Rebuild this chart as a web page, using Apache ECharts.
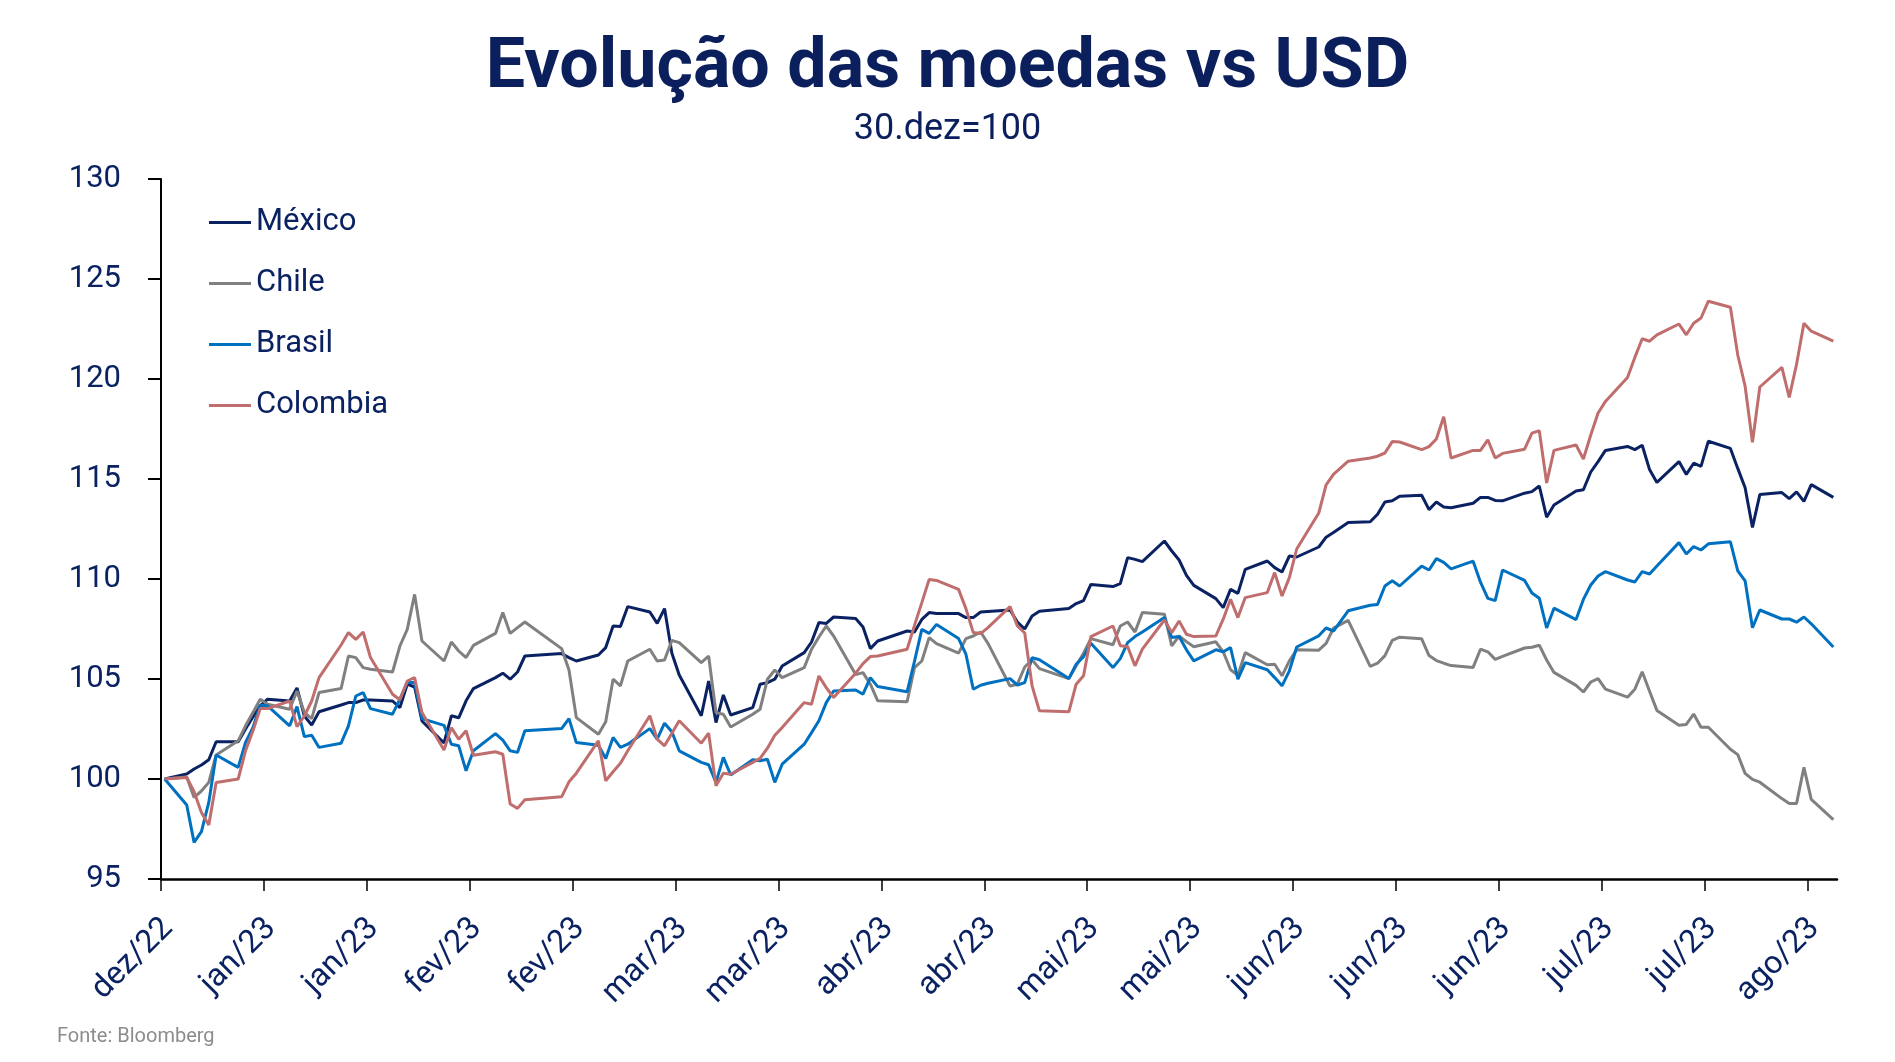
<!DOCTYPE html>
<html><head><meta charset="utf-8">
<script src="https://cdn.jsdelivr.net/npm/echarts@6/dist/echarts.min.js"></script>
<style>html,body{margin:0;padding:0;background:#fff}#chart{width:1895px;height:1062px}</style>
</head><body><div id="chart"></div>
<script>
// calendar days since 30/dez/2022 (business days with data)
const dayOffsets = [0,
3,4,5,6,7, 10,11,12,13,14, 17,18,19,20,21, 24,25,26,27,28, 31,32,33,34,35,
38,39,40,41,42, 45,46,47,48,49, 54,55,56, 59,60,61,62,63, 66,67,68,69,70,
73,74,75,76,77, 80,81,82,83,84, 87,88,89,90,91, 94,95,96,97, 101,102,103,104,105,
108,109,110,111,112, 115,116,117,118,119, 123,124,125,126, 129,130,131,132,133,
136,137,138,139,140, 143,144,145,146,147, 150,151,152,153,154, 157,158,159,161,
164,165,166,167,168, 171,172,173,174,175, 178,179,180,181,182, 185,186,187,188,189,
192,193,194,195,196, 199,200,201,202,203, 206,207,208,209,210, 213,214,215,216,217,
220,221,222,223,224, 227];

const mexico = [100.0,
100.25,100.5,100.7,100.96,101.86, 101.86,102.5,103.1,103.66,103.99, 103.9,104.55,103.15,102.7,103.36,
103.7,103.82,103.82,103.95,103.95, 103.9,103.57,104.74,104.6,102.9, 101.8,103.16,103.06,103.91,104.52,
105.07,105.29,104.99,105.35,106.15, 106.27,106.07,105.9, 106.2,106.57,107.65,107.62,108.62,
108.35,107.78,108.52,106.29,105.2, 103.16,104.9,102.82,104.2,103.2, 103.57,104.74,104.82,104.99,105.65,
106.32,106.85,107.82,107.78,108.1, 108.02,107.6,106.52,106.9, 107.4,107.35,107.98,108.32,108.28,
108.27,108.07,108.07,108.35,108.38, 108.45,107.85,107.5,108.15,108.39, 108.52,108.77,108.92,109.73,
109.62,109.77,111.07,110.98,110.87, 111.9,111.4,110.95,110.18,109.68, 109.02,108.57,109.48,109.28,110.48,
110.9,110.57,110.35,111.15,111.1, 111.6,112.09,112.32,112.82, 112.86,113.24,113.85,113.91,114.14,
114.19,113.47,113.85,113.6,113.56, 113.79,114.08,114.08,113.93,113.91, 114.29,114.37,114.65,113.09,113.7,
114.4,114.46,115.35,115.87,116.43, 116.63,116.47,116.69,115.47,114.83, 115.87,115.23,115.79,115.63,116.89,
116.53,115.53,114.56,112.58,114.22, 114.32,114.02,114.36,113.88,114.72, 114.08];

const chile = [100.0,
100.1,99.08,99.4,99.83,101.2, 101.91,102.66,103.32,103.99,103.74, 103.49,104.4,103.32,103.02,104.32,
104.52,106.15,106.07,105.57,105.49, 105.35,106.65,107.48,109.23,106.9, 105.9,106.85,106.4,106.07,106.68,
107.28,108.32,107.28,107.57,107.85, 106.52,105.45,103.07, 102.24,102.86,104.99,104.66,105.9,
106.49,105.9,105.95,106.93,106.82, 105.82,106.15,103.32,103.24,102.6, 103.24,103.49,104.99,105.45,105.07,
105.57,106.49,107.1,107.65,107.15, 105.22,105.32,104.74,103.91, 103.86,105.57,105.9,107.07,106.77,
106.29,107.02,107.15,107.35,106.78, 104.65,104.74,105.6,105.96,105.52, 105.02,105.66,106.29,107.02,
106.71,107.65,107.85,107.35,108.32, 108.24,106.66,107.15,106.87,106.61, 106.86,106.36,105.46,105.19,106.32,
105.71,105.74,105.16,105.91,106.46, 106.44,106.78,107.54,107.93, 105.63,105.79,106.17,106.93,107.09,
107.01,106.17,105.92,105.79,105.67, 105.58,106.49,106.36,105.98,106.13, 106.55,106.59,106.69,105.95,105.33,
104.68,104.35,104.85,105.02,104.49, 104.09,104.49,105.36,104.39,103.43, 102.69,102.73,103.25,102.59,102.59,
101.49,101.22,100.28,99.98,99.84, 99.02,98.78,98.78,100.58,98.98, 97.97];

const brasil = [100.0,
98.7,96.83,97.37,98.83,101.2, 100.58,101.83,102.57,103.69,103.66, 102.66,103.62,102.12,102.19,101.58,
101.79,102.66,104.15,104.32,103.52, 103.24,103.99,104.82,104.82,103.02, 102.68,101.74,101.66,100.41,101.41,
102.27,101.94,101.41,101.33,102.41, 102.52,103.02,101.82, 101.69,101.03,102.08,101.58,101.74,
102.52,101.99,102.79,102.36,101.41, 100.83,100.71,99.83,101.08,100.2, 100.96,100.91,100.99,99.83,100.74,
101.74,102.32,102.91,103.82,104.4, 104.45,104.24,105.07,104.62, 104.36,105.88,107.48,107.28,107.73,
107.02,106.24,104.49,104.69,104.79, 105.02,104.7,104.82,106.07,105.96, 105.02,105.74,106.12,106.79,
105.57,106.02,106.82,107.12,107.35, 108.07,107.07,107.12,106.46,105.91, 106.46,106.36,106.57,104.99,105.82,
105.46,105.07,104.66,105.41,106.6, 107.16,107.55,107.39,108.41, 108.69,108.73,109.65,109.91,109.65,
110.64,110.45,111.02,110.83,110.51, 110.89,109.84,109.03,108.92,110.45, 109.93,109.3,109.04,107.55,108.54,
107.97,108.98,109.7,110.15,110.37, 109.95,109.85,110.37,110.25,110.65, 111.82,111.25,111.62,111.45,111.76,
111.86,110.41,109.91,107.56,108.45, 108.0,108.0,107.84,108.1,107.76, 106.6];

const colombia = [100.0,
100.08,99.36,98.33,97.7,99.83, 100.0,101.41,102.4,103.52,103.52, 103.9,102.62,103.15,103.9,105.07,
106.7,107.32,106.98,107.35,106.07, 104.24,103.96,104.9,105.07,103.32, 101.45,102.57,101.99,102.41,101.19,
101.36,101.24,98.75,98.53,98.96, 99.11,99.86,100.29, 101.91,99.91,100.36,100.79,101.41,
103.16,101.99,101.66,102.29,102.91, 101.79,102.29,99.66,100.29,100.24, 100.83,101.03,101.54,102.19,102.57,
103.82,103.74,105.15,104.57,104.07, 105.29,105.77,106.12,106.15, 106.49,107.68,108.82,109.98,109.93,
109.48,108.52,107.32,107.27,107.57, 108.62,107.65,107.3,104.66,103.41, 103.36,104.74,105.16,107.12,
107.65,106.66,106.62,105.66,106.49, 107.95,107.32,107.9,107.24,107.12, 107.15,107.99,108.99,108.07,109.07,
109.32,110.32,109.15,110.07,111.5, 113.3,114.71,115.23,115.89, 116.05,116.14,116.3,116.87,116.85,
116.47,116.62,117.0,118.11,116.05, 116.43,116.43,116.96,116.05,116.28, 116.49,117.29,117.42,114.8,116.43,
116.7,116.0,117.2,118.3,118.88, 120.08,121.08,122.01,121.89,122.21, 122.75,122.21,122.79,123.05,123.89,
123.59,121.2,119.64,116.83,119.6, 120.58,119.08,120.74,122.79,122.39, 121.89];

const tickLabels = ['dez/22','jan/23','jan/23','fev/23','fev/23','mar/23','mar/23','abr/23','abr/23',
  'mai/23','mai/23','jun/23','jun/23','jun/23','jul/23','jul/23','ago/23'];
const tickStepDays = 14;
const yTicks = [95, 100, 105, 110, 115, 120, 125, 130];

const NAVY = '#0B2262';
const FONT = 'Roboto, "Noto Sans", sans-serif';
const tickDays = tickLabels.map((_, i) => i * tickStepDays);
// Excel date axis "between tick marks": each day plotted at the centre of its slot
const toPairs = vals => dayOffsets.map((d, i) => [d + 0.5, vals[i]]);

const seriesDefs = [
  { name: 'México', color: '#0B2262', values: mexico },
  { name: 'Chile', color: '#808080', values: chile },
  { name: 'Brasil', color: '#0070C0', values: brasil },
  { name: 'Colombia', color: '#C06D6D', values: colombia }
];

const chart = echarts.init(document.getElementById('chart'), null, { renderer: 'canvas' });
chart.setOption({
  animation: false,
  backgroundColor: '#ffffff',
  textStyle: { fontFamily: FONT },
  title: [
    { text: 'Evolução das moedas vs USD', left: 'center', top: 34, padding: 0,
      textStyle: { fontSize: 70, fontWeight: 'bold', color: '#0B1F5C', fontFamily: FONT } },
    { text: '30.dez=100', left: 'center', top: 112, padding: 0,
      textStyle: { fontSize: 36, fontWeight: 'normal', color: '#0B1F5C', fontFamily: FONT } }
  ],
  legend: {
    orient: 'vertical', left: 209, top: 207, padding: 0, itemWidth: 42, itemHeight: 3, itemGap: 30,
    icon: 'rect', selectedMode: false,
    textStyle: { fontSize: 31, color: NAVY, fontFamily: FONT, lineHeight: 31 },
    data: seriesDefs.map(s => s.name)
  },
  grid: { left: 161, right: 58, top: 179, bottom: 183, containLabel: false },
  xAxis: {
    type: 'value', min: 0, max: 228, interval: tickStepDays,
    axisLine: { show: true, onZero: false, lineStyle: { color: '#000', width: 2.5 } },
    axisTick: { show: true, length: 12, customValues: tickDays, lineStyle: { color: '#000', width: 1.5 } },
    axisLabel: {
      customValues: tickDays, rotate: 45, margin: 29, fontSize: 32, color: NAVY, fontFamily: FONT,
      verticalAlign: 'top', padding: [0, 6, 0, 0],
      formatter: v => tickLabels[Math.round(v / tickStepDays)] || ''
    },
    splitLine: { show: false }
  },
  yAxis: {
    type: 'value', min: yTicks[0], max: yTicks[yTicks.length - 1], interval: 5,
    axisLine: { show: true, lineStyle: { color: '#000', width: 2 } },
    axisTick: { show: true, length: 13, lineStyle: { color: '#000', width: 2 } },
    axisLabel: { margin: 40, fontSize: 31, color: NAVY, fontFamily: FONT },
    splitLine: { show: false }
  },
  series: seriesDefs.map(s => ({
    name: s.name, type: 'line', showSymbol: false, symbol: 'none',
    color: s.color, lineStyle: { color: s.color, width: 3 },
    data: toPairs(s.values)
  })),
  graphic: [{
    type: 'text', left: 57, top: 1027,
    style: { text: 'Fonte: Bloomberg', fontSize: 20, fill: '#8C8C8C', fontFamily: FONT }
  }]
});
</script></body></html>
